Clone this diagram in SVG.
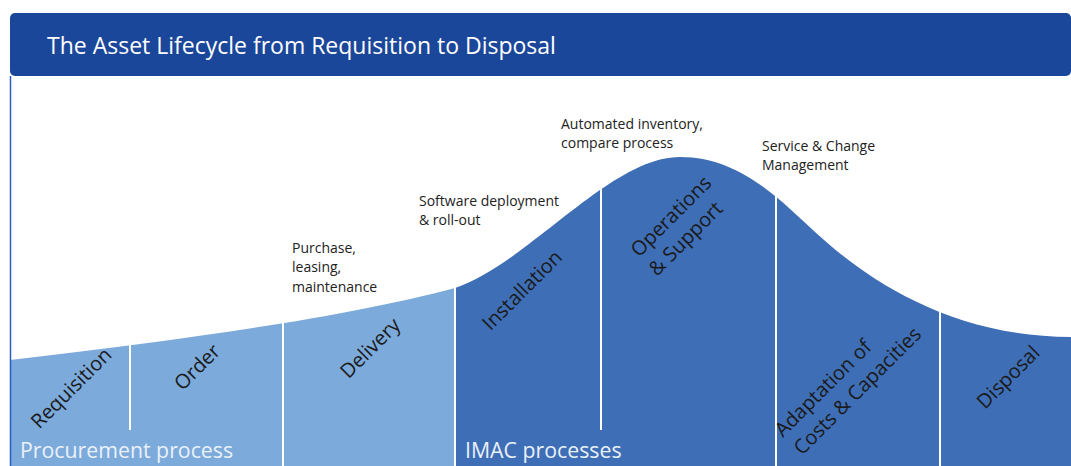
<svg xmlns="http://www.w3.org/2000/svg" width="1071" height="466" viewBox="0 0 1071 466">
  <style>
    .title { font-family: "Open Sans", "Noto Sans", sans-serif; font-size: 23px; fill: #ffffff; }
    .note { font-family: "Open Sans", "Noto Sans", sans-serif; font-size: 14px; fill: #222222; }
    .stage { font-family: "Open Sans", "Noto Sans", sans-serif; font-size: 20px; fill: #1a1a1a; }
    .phase { font-family: "Open Sans", "Noto Sans", sans-serif; font-size: 21.3px; fill: #eaf1fa; }
    .divider { stroke: #ffffff; stroke-width: 2; fill: none; }
  </style>

  <rect x="0" y="0" width="1071" height="466" fill="#ffffff"/>

  <!-- header bar -->
  <g id="header">
    <rect x="10" y="13" width="1061" height="63" rx="5" ry="5" fill="#1b479b"/>
    <text class="title" x="47" y="54">The Asset Lifecycle from Requisition to Disposal</text>
  </g>

  <!-- lifecycle curve: procurement (light) and IMAC (dark) areas -->
  <g id="procurement-area">
    <path d="M10,360 C200,338 350,316 455,288 L455,466 L10,466 Z" fill="#7caada"/>
  </g>
  <g id="imac-area">
    <path d="M455,288 C530,262 610,157 680,157 C740,157 780,200 815,232 C865,278 950,337 1071,337 L1071,466 L455,466 Z" fill="#3e6eb5"/>
  </g>

  <!-- left frame line -->
  <line x1="10.5" y1="76" x2="10.5" y2="466" stroke="#2c5cc0" stroke-width="1.5"/>

  <!-- stage separators -->
  <g id="connectors">
    <line class="divider" x1="130" y1="150" x2="130" y2="430"/>
    <line class="divider" x1="283" y1="150" x2="283" y2="466"/>
    <line class="divider" x1="455" y1="150" x2="455" y2="466"/>
    <line class="divider" x1="601" y1="150" x2="601" y2="430"/>
    <line class="divider" x1="776" y1="150" x2="776" y2="466"/>
    <line class="divider" x1="940" y1="150" x2="940" y2="466"/>
  </g>

  <!-- stages -->
  <g id="stage-requisition">
    <text class="stage" text-anchor="middle" transform="translate(76,393) rotate(-45)">Requisition</text>
  </g>
  <g id="stage-order">
    <text class="stage" text-anchor="middle" transform="translate(202,372) rotate(-45)">Order</text>
  </g>
  <g id="stage-delivery">
    <text class="stage" text-anchor="middle" transform="translate(375,353) rotate(-45)">Delivery</text>
    <text class="note" x="292" y="253">Purchase,</text>
    <text class="note" x="292" y="272">leasing,</text>
    <text class="note" x="292" y="292">maintenance</text>
  </g>
  <g id="stage-installation">
    <text class="stage" text-anchor="middle" transform="translate(527,295) rotate(-45)">Installation</text>
    <text class="note" x="419" y="206">Software deployment</text>
    <text class="note" x="419" y="225">&amp; roll-out</text>
  </g>
  <g id="stage-operations">
    <text class="stage" transform="translate(639,258) rotate(-45)">Operations</text>
    <text class="stage" transform="translate(657,277) rotate(-45)">&amp; Support</text>
    <text class="note" x="561" y="129">Automated inventory,</text>
    <text class="note" x="561" y="148">compare process</text>
  </g>
  <g id="stage-adaptation">
    <text class="stage" transform="translate(783,438) rotate(-45)">Adaptation of</text>
    <text class="stage" transform="translate(802,456) rotate(-45)">Costs &amp; Capacities</text>
    <text class="note" x="762" y="151">Service &amp; Change</text>
    <text class="note" x="762" y="170">Management</text>
  </g>
  <g id="stage-disposal">
    <text class="stage" text-anchor="middle" transform="translate(1013,382) rotate(-45)">Disposal</text>
  </g>

  <!-- phase captions -->
  <g id="phase-procurement">
    <text class="phase" x="20" y="458">Procurement process</text>
  </g>
  <g id="phase-imac">
    <text class="phase" x="465" y="458">IMAC processes</text>
  </g>
</svg>
